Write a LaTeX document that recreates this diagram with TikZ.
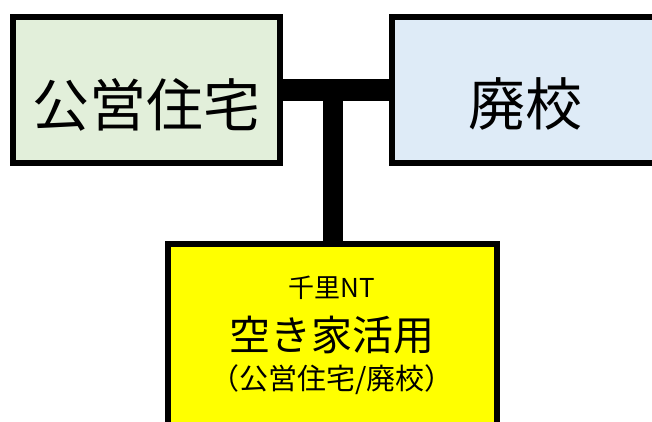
\documentclass[tikz,border=0pt]{standalone}
\usepackage{fontspec}
\newfontfamily\cjk{Noto Sans CJK JP}
\definecolor{boxgreen}{HTML}{E2EFDA}
\definecolor{boxblue}{HTML}{DEEBF7}
\definecolor{boxyellow}{HTML}{FFFF00}
\begin{document}
\begin{tikzpicture}[x=1pt,y=-1pt,
  box/.style={draw=black,line width=6pt,rectangle,inner sep=0pt},
  conn/.style={draw=black,line cap=butt},
  txt/.style={inner sep=0pt,text=black}]
\useasboundingbox (0,0) rectangle (652,422);
% boxes
\node[box,fill=boxgreen,minimum width=267pt,minimum height=146pt] (L) at (146.5,90) {};
\node[box,fill=boxblue,minimum width=268pt,minimum height=146pt] (R) at (526,90) {};
\node[box,fill=boxyellow,minimum width=329pt,minimum height=186pt] (Y) at (332.5,337) {};
% connectors
\draw[conn,line width=22pt] (L.east) -- (R.west);
\coordinate (J) at (Y.north |- L.east);
\draw[conn,line width=20pt] (J) -- (Y.north);
% texts
\node[txt] (Lt) at (146,105) {\cjk\fontsize{57}{60}\selectfont 公営住宅};
\node[txt] (Rt) at (525,104) {\cjk\fontsize{57}{60}\selectfont 廃校};
\node[txt] (Y1) at (332,288) {\cjk\fontsize{26}{28}\selectfont 千里NT};
\node[txt] (Y2) at (332,335) {\cjk\fontsize{41}{44}\selectfont 空き家活用};
\node[txt] (Y3) at (332,380) {\cjk\fontsize{29}{32}\selectfont （公営住宅/廃校）};
\end{tikzpicture}
\end{document}
